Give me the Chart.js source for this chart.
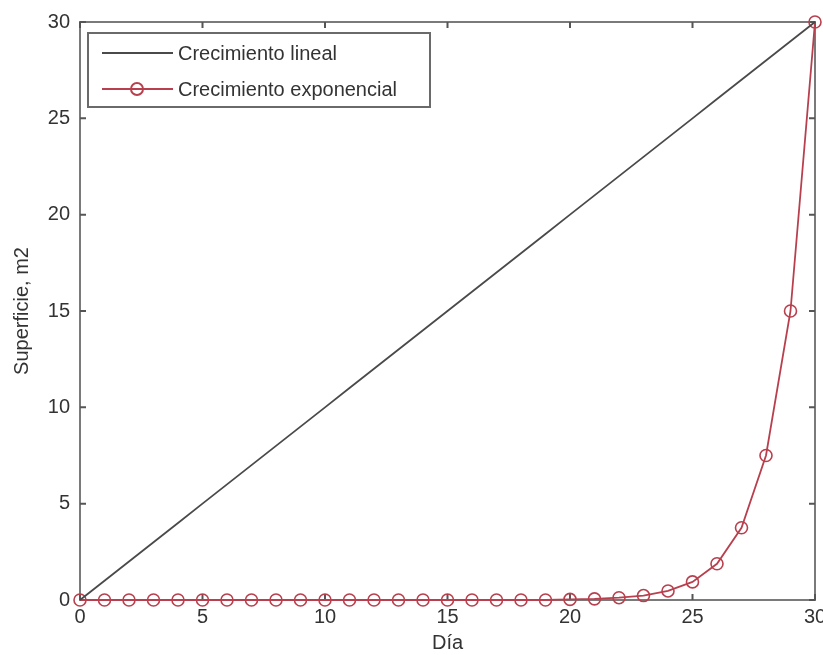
<!DOCTYPE html>
<html>
<head>
<meta charset="utf-8">
<script src="https://cdn.jsdelivr.net/npm/chart.js@4/dist/chart.umd.min.js"></script>
<style>
    html, body { margin: 0; padding: 0; background: #fff; }
    #wrap { width: 823px; height: 655px; }
</style>
</head>
<body>
<div id="wrap"><canvas id="CanvasCrecimiento"></canvas></div>
<script>
// data
const dias = [0, 1, 2, 3, 4, 5, 6, 7, 8, 9, 10, 11, 12, 13, 14, 15, 16, 17, 18, 19, 20, 21, 22, 23, 24, 25, 26, 27, 28, 29, 30];
const crecimientoLineal = [0, 1, 2, 3, 4, 5, 6, 7, 8, 9, 10, 11, 12, 13, 14, 15, 16, 17, 18, 19, 20, 21, 22, 23, 24, 25, 26, 27, 28, 29, 30];
const crecimientoExponencial = [0, 0, 0, 0, 0, 0, 0, 0, 0, 0, 0, 0, 0, 0, 0, 0, 0, 0, 0, 0, 0.03, 0.06, 0.12, 0.23, 0.47, 0.94, 1.88, 3.75, 7.5, 15, 30];
const etiquetasSerie = ["Crecimiento lineal", "Crecimiento exponencial"];
const ticksEjes = [0, 5, 10, 15, 20, 25, 30];

const fontFamily = "'Liberation Sans', Arial, sans-serif";
const colorLineal = "#4a4a4a";
const colorExpo = "#b8404e";

function toPoints(xs, ys) {
    return xs.map((x, i) => ({ x: x, y: ys[i] }));
}

// matlab style box with inward ticks
const boxPlugin = {
    id: 'boxPlugin',
    beforeDatasetsDraw(chart) {
        const ctx = chart.ctx;
        const area = chart.chartArea;
        const xs = chart.scales.x;
        const ys = chart.scales.y;
        ctx.save();
        ctx.strokeStyle = "#7a7a7a";
        ctx.lineWidth = 2;
        ctx.strokeRect(area.left, area.top, area.right - area.left, area.bottom - area.top);
        ctx.strokeStyle = "#555";
        const len = 6;
        ticksEjes.forEach(v => {
            const px = xs.getPixelForValue(v);
            const py = ys.getPixelForValue(v);
            ctx.beginPath();
            ctx.moveTo(px, area.bottom); ctx.lineTo(px, area.bottom - len);
            ctx.moveTo(px, area.top); ctx.lineTo(px, area.top + len);
            ctx.moveTo(area.left, py); ctx.lineTo(area.left + len, py);
            ctx.moveTo(area.right, py); ctx.lineTo(area.right - len, py);
            ctx.stroke();
        });
        ctx.restore();
    },
    afterDraw(chart) {
        // legend box in the upper left corner
        const ctx = chart.ctx;
        const area = chart.chartArea;
        const bx = area.left + 8, by = area.top + 11, bw = 342, bh = 74;
        ctx.save();
        ctx.fillStyle = "#fff";
        ctx.fillRect(bx, by, bw, bh);
        ctx.strokeStyle = "#6a6a6a";
        ctx.lineWidth = 2;
        ctx.strokeRect(bx, by, bw, bh);
        const rows = [by + 20, by + 56];
        const colors = [colorLineal, colorExpo];
        ctx.font = "20px " + fontFamily;
        ctx.textBaseline = "middle";
        for (let i = 0; i < etiquetasSerie.length; i++) {
            ctx.strokeStyle = colors[i];
            ctx.lineWidth = 2;
            ctx.beginPath();
            ctx.moveTo(bx + 14, rows[i]);
            ctx.lineTo(bx + 85, rows[i]);
            ctx.stroke();
            if (i === 1) {
                ctx.beginPath();
                ctx.arc(bx + 49, rows[i], 6, 0, Math.PI * 2);
                ctx.stroke();
            }
            ctx.fillStyle = "#333";
            ctx.fillText(etiquetasSerie[i], bx + 90, rows[i] + 1);
        }
        ctx.restore();
    }
};

new Chart(document.getElementById("CanvasCrecimiento"), {
    type: 'line',
    data: {
        datasets: [{
            label: etiquetasSerie[0],
            data: toPoints(dias, crecimientoLineal),
            borderColor: colorLineal,
            borderWidth: 1.8,
            pointRadius: 0,
            tension: 0,
            clip: false
        }, {
            label: etiquetasSerie[1],
            data: toPoints(dias, crecimientoExponencial),
            borderColor: colorExpo,
            backgroundColor: "rgba(255,255,255,0)",
            borderWidth: 1.8,
            pointRadius: 6,
            pointBorderWidth: 1.6,
            pointBorderColor: colorExpo,
            pointBackgroundColor: "rgba(255,255,255,0)",
            tension: 0,
            clip: false
        }]
    },
    options: {
        responsive: true,
        maintainAspectRatio: false,
        animation: false,
        layout: { padding: { top: 22, right: 8, left: 0, bottom: 0 } },
        plugins: {
            legend: { display: false },
            tooltip: { enabled: false }
        },
        scales: {
            x: {
                type: 'linear',
                min: 0,
                max: 30,
                afterFit: scale => {
                    scale.height = 55;
                    scale.paddingLeft = 0;
                    scale.paddingRight = 0;
                },
                afterBuildTicks: scale => { scale.ticks = ticksEjes.map(v => ({ value: v })); },
                grid: { display: false, drawTicks: false },
                border: { display: false },
                ticks: { color: "#333", padding: 5, font: { family: fontFamily, size: 20 } },
                title: {
                    display: true,
                    text: "Día",
                    color: "#333",
                    padding: { top: 0, bottom: 0 },
                    font: { family: fontFamily, size: 20 }
                }
            },
            y: {
                type: 'linear',
                min: 0,
                max: 30,
                afterFit: scale => {
                    scale.width = 80;
                    scale.paddingTop = 0;
                    scale.paddingBottom = 0;
                },
                afterBuildTicks: scale => { scale.ticks = ticksEjes.map(v => ({ value: v })); },
                grid: { display: false, drawTicks: false },
                border: { display: false },
                ticks: { color: "#333", padding: 10, font: { family: fontFamily, size: 20 } },
                title: {
                    display: true,
                    text: "Superficie, m2",
                    color: "#333",
                    padding: { top: 10, bottom: 0 },
                    font: { family: fontFamily, size: 20 }
                }
            }
        }
    },
    plugins: [boxPlugin]
});
</script>
</body>
</html>
